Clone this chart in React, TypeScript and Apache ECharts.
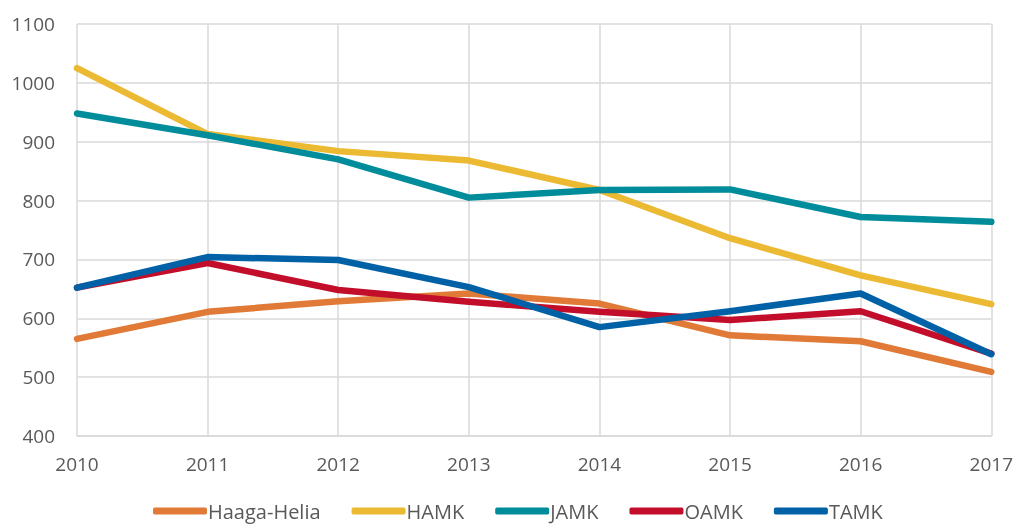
import React, { useEffect, useRef } from "react";
import * as echarts from "echarts";

const years = ["2010", "2011", "2012", "2013", "2014", "2015", "2016", "2017"];
const haagaHelia = [565, 611, 629, 642, 625, 571, 561, 509];
const hamk = [1025, 913, 884, 868, 818, 736, 673, 624];
const jamk = [948, 911, 870, 805, 818, 819, 772, 764];
const oamk = [652, 694, 648, 628, 611, 597, 612, 540];
const tamk = [652, 704, 699, 653, 585, 612, 642, 539];

const seriesNames = ["Haaga-Helia", "HAMK", "JAMK", "OAMK", "TAMK"];
const seriesData = [haagaHelia, hamk, jamk, oamk, tamk];
const colors = ["#E07A36", "#EBB932", "#008C9A", "#C20E2A", "#0061A6"];

export default function App() {
  const ref = useRef<HTMLDivElement>(null);
  useEffect(() => {
    if (!ref.current) return;
    const chart = echarts.init(ref.current, null, { renderer: "svg" });
    const font = "'Open Sans', 'Noto Sans', sans-serif";
    chart.setOption({
      animation: false,
      color: colors,
      grid: { left: 77, right: 24, top: 24, bottom: 90 },
      legend: {
        bottom: 0,
        left: 148,
        icon: "roundRect",
        itemWidth: 54,
        itemHeight: 7,
        itemGap: 31,
        textStyle: { fontFamily: font, fontSize: 20, color: "#595959", padding: [0, 0, 0, -4] },
        data: seriesNames,
      },
      xAxis: {
        type: "category",
        data: years,
        boundaryGap: false,
        axisLine: { show: true, lineStyle: { color: "#d9d9d9", width: 1.5 } },
        axisTick: { show: false },
        axisLabel: { fontFamily: font, fontSize: 19, color: "#595959", margin: 18 },
        splitLine: { show: true, lineStyle: { color: "#d9d9d9", width: 1.5 } },
      },
      yAxis: {
        type: "value",
        min: 400,
        max: 1100,
        interval: 100,
        axisLine: { show: false },
        axisTick: { show: false },
        axisLabel: {
          fontFamily: font,
          fontSize: 19,
          color: "#595959",
          margin: 22,
          formatter: (v: number) => String(v),
        },
        splitLine: { show: true, lineStyle: { color: "#d9d9d9", width: 1.5 } },
      },
      series: seriesNames.map((name, i) => ({
        name,
        type: "line",
        data: seriesData[i],
        symbol: "none",
        lineStyle: { width: 6.5, color: colors[i], cap: "round", join: "round" },
        itemStyle: { color: colors[i] },
      })),
    });
    return () => chart.dispose();
  }, []);
  return (
    <div
      ref={ref}
      style={{ position: "fixed", left: 0, top: 0, width: 1016, height: 526 }}
    />
  );
}
